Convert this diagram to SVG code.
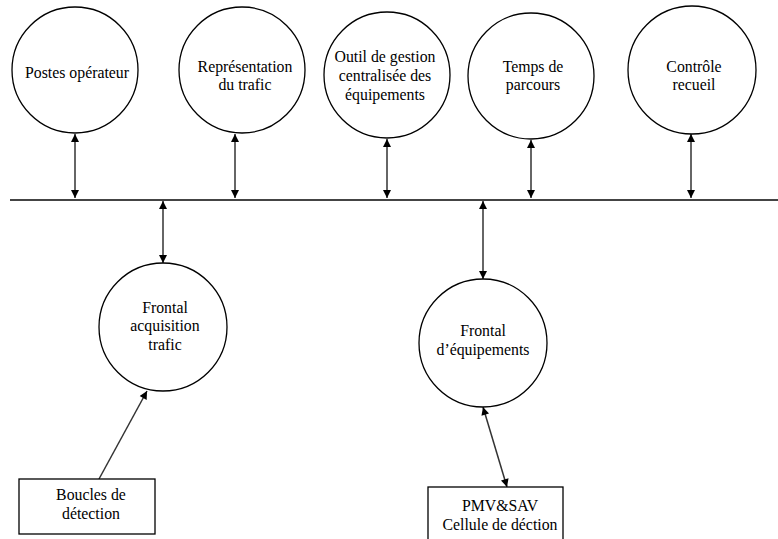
<svg xmlns="http://www.w3.org/2000/svg" width="778" height="539" viewBox="0 0 778 539">
<style>
.n{fill:#fff;stroke:#000;stroke-width:1.3}
.t{font-family:'Liberation Serif','Times New Roman',serif;font-size:15.8px;fill:#000;text-anchor:middle}
.c{stroke:#333;stroke-width:1.5;fill:none}
</style>
<defs>
<marker id="ah" viewBox="0 0 10 10" refX="10" refY="5" markerWidth="9" markerHeight="8" markerUnits="userSpaceOnUse" orient="auto-start-reverse">
<path d="M0,0 L10,5 L0,10 Z" fill="#000"/>
</marker>
</defs>
<rect width="778" height="539" fill="#fff"/>
<g id="connectors">
<line x1="10" y1="200" x2="778" y2="200" stroke="#444" stroke-width="2"/>
<line class="c" x1="75" y1="134" x2="75" y2="198" marker-start="url(#ah)" marker-end="url(#ah)"/>
<line class="c" x1="235" y1="134" x2="235" y2="198" marker-start="url(#ah)" marker-end="url(#ah)"/>
<line class="c" x1="387" y1="139" x2="387" y2="198" marker-start="url(#ah)" marker-end="url(#ah)"/>
<line class="c" x1="531" y1="140" x2="531" y2="198" marker-start="url(#ah)" marker-end="url(#ah)"/>
<line class="c" x1="691" y1="134" x2="691" y2="198" marker-start="url(#ah)" marker-end="url(#ah)"/>
<line class="c" x1="163" y1="201" x2="163" y2="263" marker-start="url(#ah)" marker-end="url(#ah)"/>
<line class="c" x1="483" y1="201" x2="483" y2="279" marker-start="url(#ah)" marker-end="url(#ah)"/>
<line class="c" x1="483" y1="407" x2="507" y2="487" marker-start="url(#ah)" marker-end="url(#ah)"/>
<line class="c" stroke="#111" x1="99" y1="479" x2="147" y2="391" marker-end="url(#ah)"/>
</g>
<g id="postes"><circle class="n" cx="75" cy="70" r="63"/><text class="t" x="77" y="78">Postes opérateur</text></g>
<g id="representation"><circle class="n" cx="242" cy="70" r="63"/><text class="t" x="245" y="72">Représentation</text><text class="t" x="245" y="90">du trafic</text></g>
<g id="outil"><circle class="n" cx="387" cy="75" r="63"/><text class="t" x="385" y="62">Outil de gestion</text><text class="t" x="385" y="81">centralisée des</text><text class="t" x="385" y="100">équipements</text></g>
<g id="temps"><circle class="n" cx="531" cy="76" r="63"/><text class="t" x="533" y="72">Temps de</text><text class="t" x="533" y="90">parcours</text></g>
<g id="controle"><circle class="n" cx="692" cy="70" r="64"/><text class="t" x="694" y="72">Contrôle</text><text class="t" x="694" y="90">recueil</text></g>
<g id="frontal-acq"><circle class="n" cx="163" cy="327" r="64"/><text class="t" x="165" y="313">Frontal</text><text class="t" x="165" y="331">acquisition</text><text class="t" x="165" y="350">trafic</text></g>
<g id="frontal-equip"><circle class="n" cx="483" cy="343" r="64"/><text class="t" x="483" y="336">Frontal</text><text class="t" x="483" y="355">d’équipements</text></g>
<g id="boucles"><rect class="n" x="19" y="479" width="136" height="55"/><text class="t" x="91" y="500">Boucles de</text><text class="t" x="91" y="519">détection</text></g>
<g id="pmv"><rect class="n" x="428" y="487" width="135" height="60"/><text class="t" x="500" y="511">PMV&amp;SAV</text><text class="t" x="500" y="530">Cellule de déction</text></g>
</svg>
